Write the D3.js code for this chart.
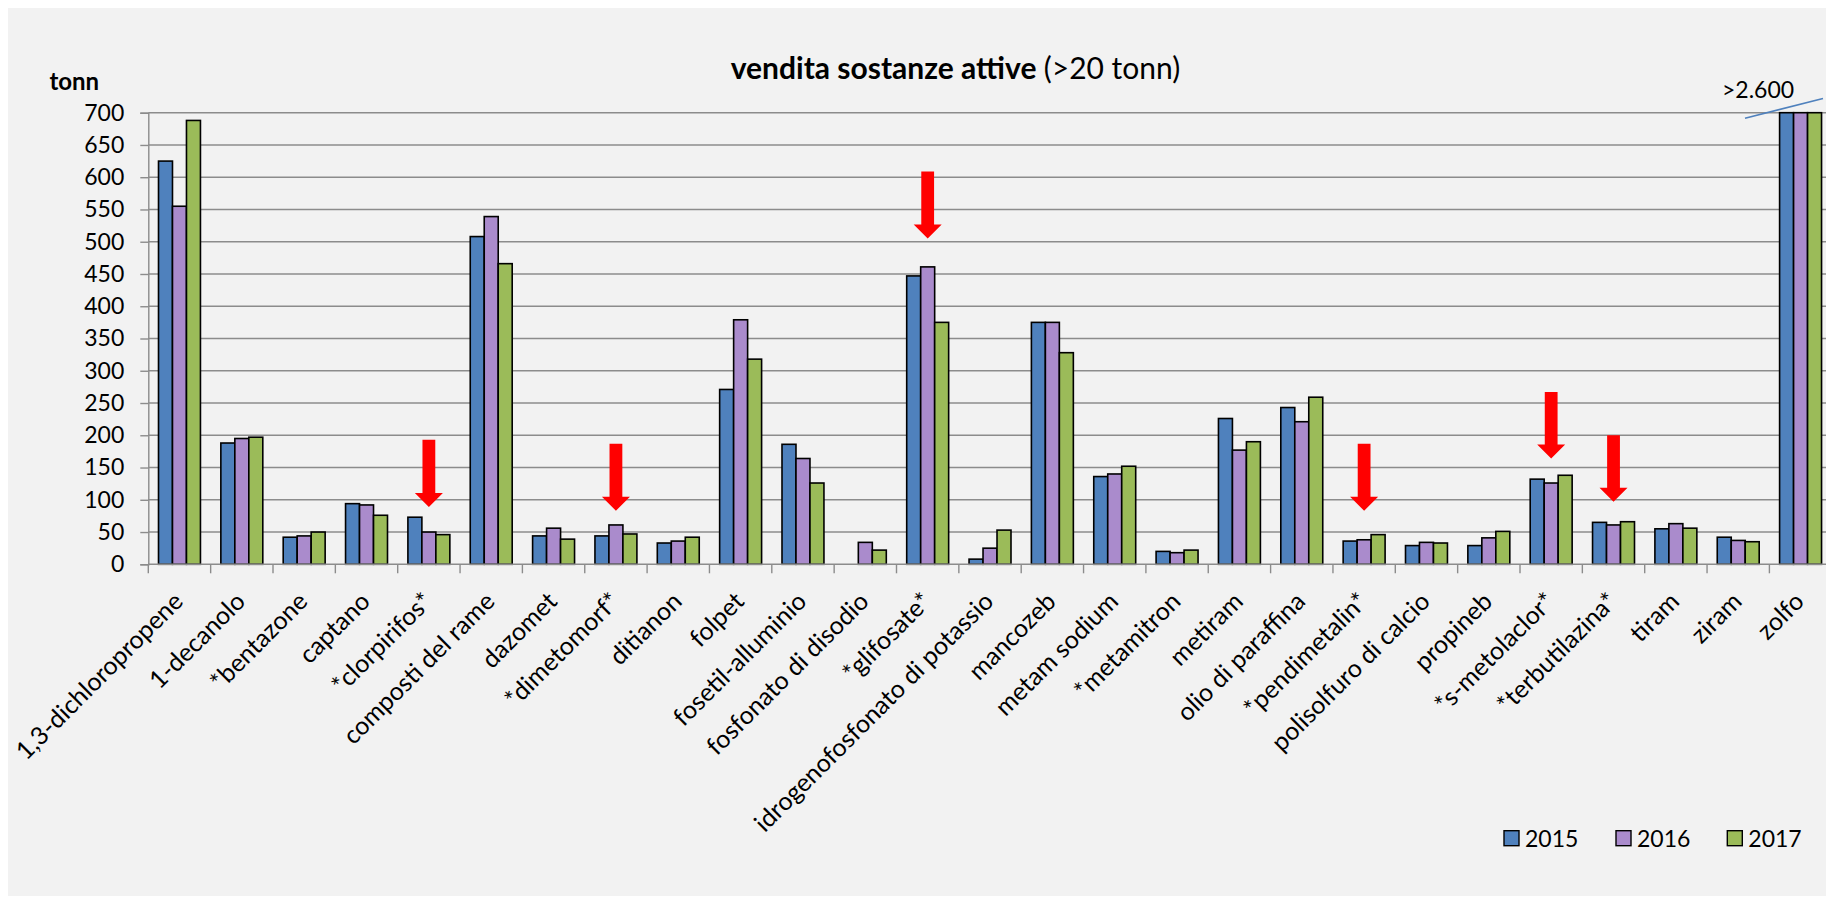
<!DOCTYPE html>
<html>
<head>
<meta charset="utf-8">
<script src="https://cdn.jsdelivr.net/npm/d3@7/dist/d3.min.js"></script>
<style>
  html, body { margin: 0; padding: 0; background: #ffffff; }
  svg { display: block; }
  text { font-family: Lato, "Open Sans", "Noto Sans", sans-serif; fill: #000; }
</style>
</head>
<body>
<div id="chart"></div>
<script>
// ---------------- DATA ----------------
const categories = [
  "1,3-dichloropropene", "1-decanolo", "*bentazone", "captano", "*clorpirifos*",
  "composti del rame", "dazomet", "*dimetomorf*", "ditianon", "folpet",
  "fosetil-alluminio", "fosfonato di disodio", "*glifosate*",
  "idrogenofosfonato di potassio", "mancozeb", "metam sodium", "*metamitron",
  "metiram", "olio di paraffina", "*pendimetalin*", "polisolfuro di calcio",
  "propineb", "*s-metolaclor*", "*terbutilazina*", "tiram", "ziram", "zolfo"
];
const years = ["2015", "2016", "2017"];
const values2015 = [625, 188, 42, 94, 73, 508, 44, 44, 33, 271, 186, 0, 447, 8, 375, 136, 20, 226, 243, 36, 29, 29, 132, 65, 55, 42, 2650];
const values2016 = [555, 195, 44, 92, 50, 539, 56, 61, 36, 379, 164, 34, 461, 25, 375, 140, 18, 177, 221, 38, 34, 41, 126, 61, 63, 37, 2700];
const values2017 = [688, 197, 50, 76, 46, 466, 39, 47, 42, 318, 126, 22, 375, 53, 328, 152, 22, 190, 259, 46, 33, 51, 138, 66, 56, 35, 2650];
const yTickValues = [0, 50, 100, 150, 200, 250, 300, 350, 400, 450, 500, 550, 600, 650, 700];
// red arrows (annotation): category, tip value and tail value in tonn
const arrowCats = ["*clorpirifos*", "*dimetomorf*", "*glifosate*", "*pendimetalin*", "*s-metolaclor*", "*terbutilazina*"];
const arrowTips = [89, 83, 505, 83, 164, 97];
const arrowTails = [193, 187, 609, 187, 267, 200];
const titleBold = "vendita sostanze attive ";
const titleRegular = "(>20 tonn)";
const yUnit = "tonn";
const overflowLabel = ">2.600";

// ---------------- LAYOUT ----------------
const W = 1826, H = 898;
const colors = { "2015": "#4f81bd", "2016": "#aa8bcc", "2017": "#9bbb59" };
const plotLeft = 148.3, band = 62.35;
const plotTop = 112.7, plotBottom = 564.3;

const svg = d3.select("#chart").append("svg").attr("width", W).attr("height", H);

// chart area background
svg.append("rect").attr("x", 8).attr("y", 8).attr("width", W - 8).attr("height", 888)
  .attr("fill", "#f2f2f2");

const x = d3.scaleBand().domain(categories).range([plotLeft, plotLeft + band * categories.length]).padding(0);
const x1 = d3.scaleBand().domain(years).range([10.2, band - 10.2]).padding(0);
const y = d3.scaleLinear().domain([0, 700]).range([plotBottom, plotTop]).clamp(true);

// gridlines
svg.append("g").selectAll("line").data(yTickValues.filter(d => d > 0)).join("line")
  .attr("x1", plotLeft).attr("x2", x.range()[1])
  .attr("y1", d => y(d)).attr("y2", d => y(d))
  .attr("stroke", "#8c8c8c").attr("stroke-width", 1.4);

// y axis
const yAxis = d3.axisLeft(y).tickValues(yTickValues).tickSize(8).tickPadding(16).tickFormat(d3.format("d"));
const gy = svg.append("g").attr("transform", `translate(${plotLeft},0)`).call(yAxis);
gy.select(".domain").attr("stroke", "#8c8c8c").attr("stroke-width", 1.4);
gy.selectAll(".tick line").attr("stroke", "#8c8c8c").attr("stroke-width", 1.4);
gy.selectAll(".tick text").attr("font-size", 23).attr("font-family", "Lato").attr("fill", "#000");

// bars
const series = years.map((yr, i) => ({ year: yr, values: [values2015, values2016, values2017][i] }));
const groups = svg.append("g").selectAll("g").data(categories).join("g")
  .attr("transform", d => `translate(${x(d)},0)`);
groups.selectAll("rect").data((c, ci) => series.map(s => ({ year: s.year, value: s.values[ci] })).filter(d => d.value > 0))
  .join("rect")
  .attr("x", d => x1(d.year))
  .attr("width", x1.bandwidth())
  .attr("y", d => y(d.value))
  .attr("height", d => y(0) - y(d.value))
  .attr("fill", d => colors[d.year])
  .attr("stroke", "#000").attr("stroke-width", 1.6);

// x axis line and ticks
svg.append("line").attr("x1", plotLeft).attr("x2", x.range()[1]).attr("y1", plotBottom).attr("y2", plotBottom)
  .attr("stroke", "#8c8c8c").attr("stroke-width", 1.6);
svg.append("g").selectAll("line").data(categories.concat(["__end"])).join("line")
  .attr("x1", (d, i) => plotLeft + i * x.step()).attr("x2", (d, i) => plotLeft + i * x.step())
  .attr("y1", plotBottom).attr("y2", plotBottom + 9)
  .attr("stroke", "#8c8c8c").attr("stroke-width", 1.4);

// x labels
svg.append("g").selectAll("text").data(categories).join("text")
  .attr("transform", d => `translate(${x(d) + band / 2 + 5},${603}) rotate(-45)`)
  .attr("text-anchor", "end")
  .attr("font-size", 25)
  .text(d => d);

// arrows
const arrowG = svg.append("g");
arrowCats.forEach((c, i) => {
  const cx = x(c) + band / 2;
  const yt = y(arrowTails[i]), yp = y(arrowTips[i]);
  const sw = 6.4, hw = 14, hh = 14;
  const p = d3.path();
  p.moveTo(cx - sw, yt); p.lineTo(cx + sw, yt); p.lineTo(cx + sw, yp - hh);
  p.lineTo(cx + hw, yp - hh); p.lineTo(cx, yp); p.lineTo(cx - hw, yp - hh);
  p.lineTo(cx - sw, yp - hh); p.closePath();
  arrowG.append("path").attr("d", p.toString()).attr("fill", "#ff0000");
});

// title
const title = svg.append("text").attr("x", 955.5).attr("y", 79).attr("text-anchor", "middle").attr("font-size", 30);
title.append("tspan").attr("font-weight", "bold").text(titleBold);
title.append("tspan").text(titleRegular);

// unit label
svg.append("text").attr("x", 49.4).attr("y", 90).attr("font-size", 24).attr("font-weight", "bold").text(yUnit);

// overflow annotation for zolfo
svg.append("text").attr("x", 1722).attr("y", 98).attr("font-size", 23).text(overflowLabel);
svg.append("line").attr("x1", 1745).attr("y1", 118.3).attr("x2", 1823).attr("y2", 98.5)
  .attr("stroke", "#4f81bd").attr("stroke-width", 1.6);

// legend
const legendX = [1504, 1616, 1727.3];
const lg = svg.append("g").selectAll("g").data(years).join("g")
  .attr("transform", (d, i) => `translate(${legendX[i]},830.7)`);
lg.append("rect").attr("width", 15).attr("height", 15).attr("fill", d => colors[d])
  .attr("stroke", "#000").attr("stroke-width", 1.4);
lg.append("text").attr("x", 21).attr("y", 16).attr("font-size", 23).text(d => d);
</script>
</body>
</html>
